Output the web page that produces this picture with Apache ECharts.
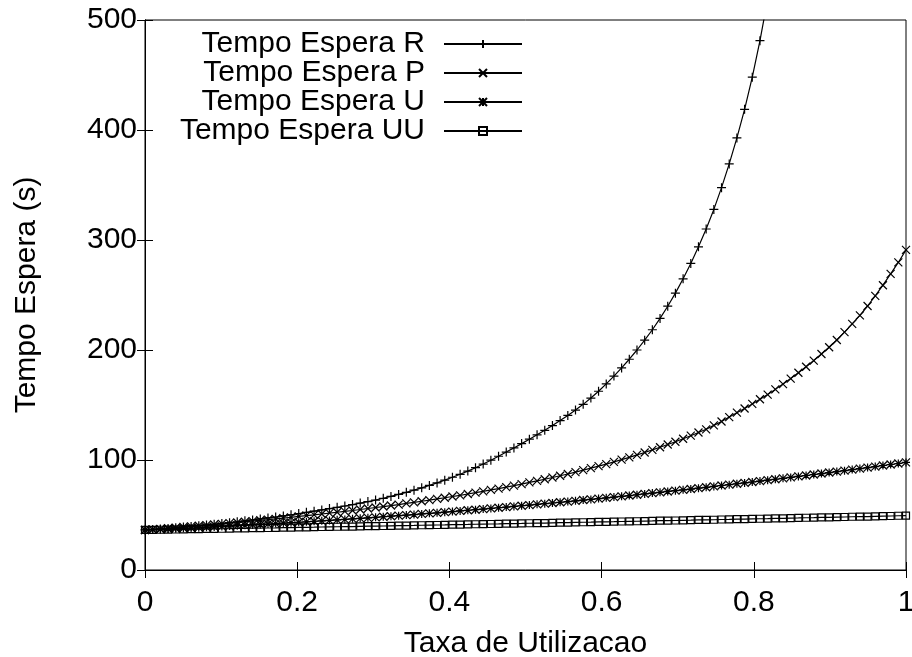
<!DOCTYPE html>
<html>
<head>
<meta charset="utf-8">
<script src="https://cdn.jsdelivr.net/npm/echarts@6/dist/echarts.min.js"></script>
<style>
  html, body { margin: 0; padding: 0; background: #fff; }
  #chart { width: 912px; height: 657px; }
</style>
</head>
<body>
<div id="chart"></div>
<script>
// Utilisation rate (100 samples over [0, 1])
const utilizacao = [
  0, 0.0101, 0.0202, 0.0303, 0.0404, 0.0505, 0.0606, 0.0707, 0.0808, 0.0909,
  0.1010, 0.1111, 0.1212, 0.1313, 0.1414, 0.1515, 0.1616, 0.1717, 0.1818, 0.1919,
  0.2020, 0.2121, 0.2222, 0.2323, 0.2424, 0.2525, 0.2626, 0.2727, 0.2828, 0.2929,
  0.3030, 0.3131, 0.3232, 0.3333, 0.3434, 0.3535, 0.3636, 0.3737, 0.3838, 0.3939,
  0.4040, 0.4141, 0.4242, 0.4343, 0.4444, 0.4545, 0.4646, 0.4747, 0.4848, 0.4949,
  0.5051, 0.5152, 0.5253, 0.5354, 0.5455, 0.5556, 0.5657, 0.5758, 0.5859, 0.5960,
  0.6061, 0.6162, 0.6263, 0.6364, 0.6465, 0.6566, 0.6667, 0.6768, 0.6869, 0.6970,
  0.7071, 0.7172, 0.7273, 0.7374, 0.7475, 0.7576, 0.7677, 0.7778, 0.7879, 0.7980,
  0.8081, 0.8182, 0.8283, 0.8384, 0.8485, 0.8586, 0.8687, 0.8788, 0.8889, 0.8990,
  0.9091, 0.9192, 0.9293, 0.9394, 0.9495, 0.9596, 0.9697, 0.9798, 0.9899, 1.0
];

// Waiting times (s)
const esperaR = [
  36.4, 36.9, 37.3, 37.8, 38.4, 39.0, 39.6, 40.2, 40.9, 41.6,
  42.3, 43.0, 43.8, 44.7, 45.5, 46.4, 47.3, 48.2, 49.2, 50.2,
  51.3, 52.4, 53.5, 54.6, 55.8, 57.0, 58.2, 59.5, 60.8, 62.2,
  63.6, 65.2, 66.9, 68.7, 70.6, 72.6, 74.7, 76.9, 79.2, 81.7,
  84.3, 87.0, 89.9, 93.0, 96.3, 99.8, 103.4, 107.2, 111.0, 114.9,
  118.9, 122.9, 127.0, 131.3, 135.8, 140.5, 145.4, 150.6, 156.3, 162.5,
  169.2, 176.3, 183.7, 191.6, 200.0, 208.9, 218.4, 228.7, 239.8, 251.7,
  264.7, 278.7, 293.8, 310.0, 327.8, 347.6, 369.2, 392.8, 418.8, 448.0,
  481.2, 519.0, null, null, null, null, null, null, null, null,
  null, null, null, null, null, null, null, null, null, null
];
const esperaP = [
  36.4, 36.9, 37.4, 38.0, 38.5, 39.1, 39.6, 40.2, 40.8, 41.4,
  42.0, 42.6, 43.2, 43.9, 44.5, 45.2, 45.8, 46.5, 47.2, 47.9,
  48.7, 49.4, 50.1, 50.9, 51.7, 52.5, 53.3, 54.1, 55.0, 55.9,
  56.8, 57.7, 58.6, 59.5, 60.5, 61.5, 62.5, 63.5, 64.6, 65.7,
  66.8, 67.9, 69.1, 70.3, 71.5, 72.8, 74.0, 75.4, 76.7, 78.1,
  79.6, 81.0, 82.5, 84.1, 85.7, 87.3, 89.0, 90.8, 92.6, 94.4,
  96.3, 98.3, 100.3, 102.4, 104.6, 106.8, 109.2, 111.6, 114.1, 116.6,
  119.3, 122.1, 125.0, 127.9, 131.5, 135.0, 139.0, 143.0, 146.8, 151.0,
  155.2, 159.5, 164.2, 169.0, 174.0, 179.3, 184.8, 190.4, 196.4, 202.5,
  209.1, 216.3, 223.7, 231.5, 240.0, 249.2, 258.9, 269.2, 279.6, 291.0
];
const esperaU = [
  36.4, 36.7, 37.0, 37.3, 37.6, 37.9, 38.2, 38.5, 38.9, 39.2,
  39.6, 39.9, 40.3, 40.6, 41.0, 41.4, 41.8, 42.2, 42.6, 43.0,
  43.4, 43.8, 44.3, 44.7, 45.1, 45.6, 46.0, 46.5, 47.0, 47.4,
  47.9, 48.4, 48.9, 49.4, 49.9, 50.4, 51.0, 51.5, 52.0, 52.6,
  53.1, 53.7, 54.3, 54.8, 55.4, 56.0, 56.6, 57.2, 57.8, 58.4,
  59.0, 59.7, 60.3, 60.9, 61.6, 62.2, 62.9, 63.6, 64.2, 64.9,
  65.6, 66.3, 67.0, 67.7, 68.4, 69.2, 69.9, 70.6, 71.4, 72.1,
  72.9, 73.6, 74.4, 75.2, 76.0, 76.8, 77.6, 78.4, 79.2, 80.0,
  80.8, 81.7, 82.5, 83.3, 84.2, 85.1, 85.9, 86.8, 87.7, 88.6,
  89.5, 90.3, 91.3, 92.2, 93.1, 94.0, 95.0, 95.9, 96.8, 97.8
];
const esperaUU = [
  36.4, 36.5, 36.6, 36.7, 36.8, 37.0, 37.1, 37.2, 37.3, 37.4,
  37.5, 37.6, 37.8, 37.9, 38.0, 38.1, 38.2, 38.3, 38.5, 38.6,
  38.7, 38.8, 38.9, 39.1, 39.2, 39.3, 39.4, 39.5, 39.7, 39.8,
  39.9, 40.0, 40.2, 40.3, 40.4, 40.5, 40.7, 40.8, 40.9, 41.0,
  41.2, 41.3, 41.4, 41.6, 41.7, 41.8, 41.9, 42.1, 42.2, 42.3,
  42.5, 42.6, 42.7, 42.9, 43.0, 43.1, 43.3, 43.4, 43.5, 43.7,
  43.8, 43.9, 44.1, 44.2, 44.3, 44.5, 44.6, 44.8, 44.9, 45.0,
  45.2, 45.3, 45.5, 45.6, 45.7, 45.9, 46.0, 46.2, 46.3, 46.5,
  46.6, 46.7, 46.9, 47.0, 47.2, 47.3, 47.5, 47.6, 47.8, 47.9,
  48.1, 48.2, 48.4, 48.5, 48.6, 48.8, 49.0, 49.1, 49.3, 49.4
];

const seriesNames = ['Tempo Espera R', 'Tempo Espera P', 'Tempo Espera U', 'Tempo Espera UU'];
const xTickLabels = ['0', '0.2', '0.4', '0.6', '0.8', '1'];
const yTickLabels = ['0', '100', '200', '300', '400', '500'];

// gnuplot-style point glyphs
const glyphs = [
  'path://M0,5L10,5M5,0L5,10',                              // +
  'path://M0,0L10,10M0,10L10,0',                            // x
  'path://M0,5L10,5M5,0L5,10M0,0L10,10M0,10L10,0',          // *
  'path://M0,0L10,0L10,10L0,10Z'                            // open square
];
const glyphSizes = [9, 8, 8, 7];

const FONT = '"Liberation Sans", Arial, Helvetica, sans-serif';
const FS = 30;

function pairs(ys) {
  return utilizacao.map((x, i) => [x, ys[i]]);
}

const chart = echarts.init(document.getElementById('chart'), null, { renderer: 'canvas' });

const frameTick = { show: true, inside: true, length: 8, lineStyle: { color: '#000', width: 1 } };

const option = {
  animation: false,
  backgroundColor: '#fff',
  textStyle: { fontFamily: FONT, color: '#000' },
  grid: {
    left: 145, right: 6, top: 20, bottom: 87,
    containLabel: false,
    outerBoundsMode: 'none',
    show: true, borderColor: '#000', borderWidth: 1, backgroundColor: 'transparent'
  },
  legend: {
    orient: 'vertical',
    right: 389,
    top: 29,
    align: 'right',
    itemWidth: 78,
    itemHeight: 10,
    itemGap: -1,
    padding: 0,
    selectedMode: false,
    textStyle: { fontFamily: FONT, fontSize: FS, color: '#000', padding: [0, 14, 0, 0] },
    data: seriesNames
  },
  xAxis: [
    {
      type: 'value', min: 0, max: 1, interval: 0.2, position: 'bottom',
      name: 'Taxa de Utilizacao', nameLocation: 'middle', nameGap: 59,
      nameTextStyle: { fontFamily: FONT, fontSize: FS, color: '#000' },
      axisLine: { show: true, lineStyle: { color: '#000', width: 1 } },
      axisTick: frameTick,
      splitLine: { show: false },
      axisLabel: {
        fontFamily: FONT, fontSize: FS, color: '#000', margin: 18,
        showMinLabel: true, showMaxLabel: true,
        formatter: v => xTickLabels[Math.round(v / 0.2)]
      }
    },
    {
      type: 'value', min: 0, max: 1, interval: 0.2, position: 'top',
      axisLine: { show: true, lineStyle: { color: '#000', width: 1 } },
      axisTick: frameTick, axisLabel: { show: false }, splitLine: { show: false }
    }
  ],
  yAxis: [
    {
      type: 'value', min: 0, max: 500, interval: 100, position: 'left',
      name: 'Tempo Espera (s)', nameLocation: 'middle', nameGap: 103, nameRotate: 90,
      nameTextStyle: { fontFamily: FONT, fontSize: FS, color: '#000' },
      axisLine: { show: true, lineStyle: { color: '#000', width: 1 } },
      axisTick: frameTick,
      splitLine: { show: false },
      axisLabel: {
        fontFamily: FONT, fontSize: FS, color: '#000', margin: 8,
        formatter: v => yTickLabels[Math.round(v / 100)]
      }
    },
    {
      type: 'value', min: 0, max: 500, interval: 100, position: 'right',
      axisLine: { show: true, lineStyle: { color: '#000', width: 1 } },
      axisTick: frameTick, axisLabel: { show: false }, splitLine: { show: false }
    }
  ],
  series: [esperaR, esperaP, esperaU, esperaUU].map((ys, k) => ({
    name: seriesNames[k],
    type: 'line',
    xAxisIndex: 0,
    yAxisIndex: 0,
    data: pairs(ys),
    symbol: glyphs[k],
    symbolSize: glyphSizes[k],
    showAllSymbol: true,
    clip: true,
    connectNulls: false,
    lineStyle: { color: '#000', width: 1.2 },
    itemStyle: { color: 'rgba(0,0,0,0)', borderColor: '#000', borderWidth: 1.2 },
    emphasis: { disabled: true },
    z: 2 + k
  }))
};

chart.setOption(option);
</script>
</body>
</html>
